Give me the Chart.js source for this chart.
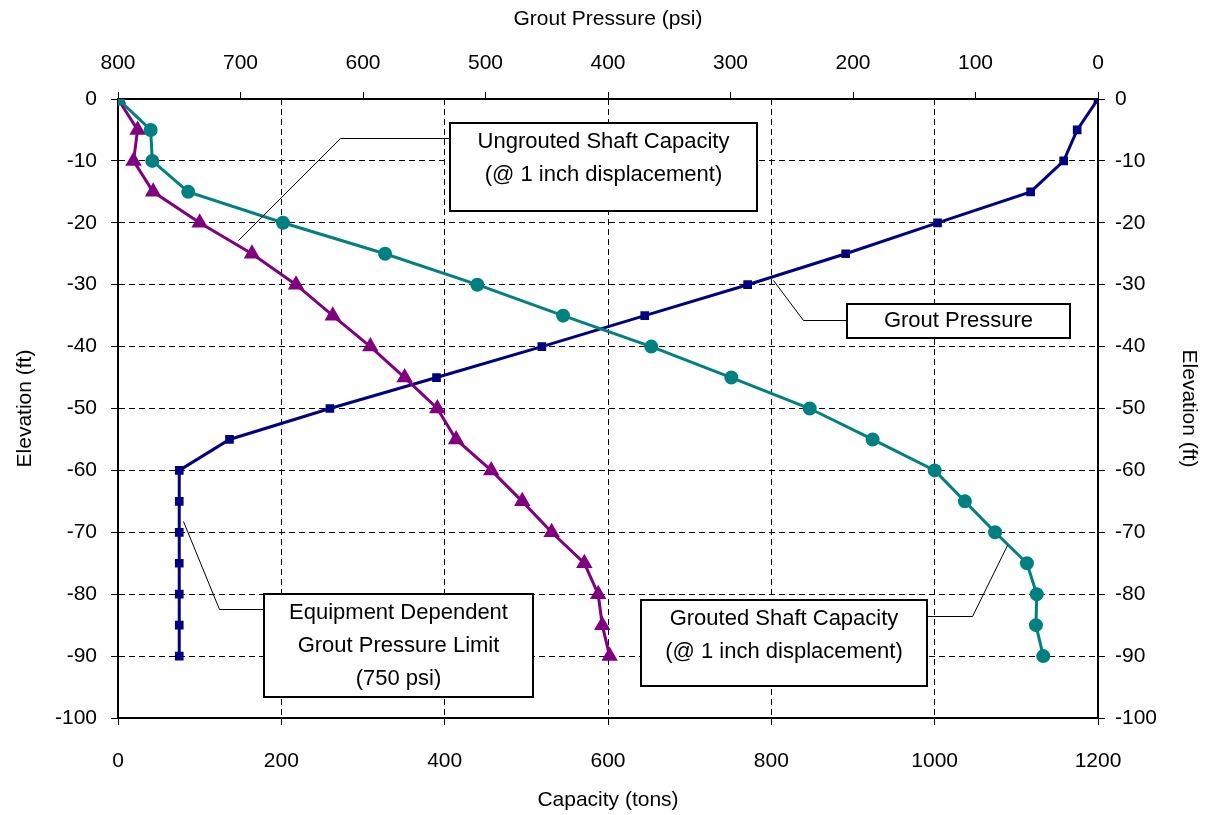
<!DOCTYPE html>
<html>
<head>
<meta charset="utf-8">
<script src="https://cdn.jsdelivr.net/npm/chart.js@4/dist/chart.umd.min.js"></script>
<style>
  html, body { margin: 0; padding: 0; background: #fff; }
  #wrap { width: 1209px; height: 815px; }
</style>
</head>
<body>
<div id="wrap"><canvas id="grafico" width="1209" height="815"></canvas></div>
<script>
// Elevação (ft) de cada ponto
const elevacao = [0, -5, -10, -15, -20, -25, -30, -35, -40, -45, -50, -55, -60, -65, -70, -75, -80, -85, -90];

// Capacidade (tons)
const capGrouted   = [0, 40, 42, 86, 202, 327, 440, 545, 653, 751, 847, 924, 1000, 1037, 1074, 1113, 1125, 1124, 1133];
const capUngrouted = [0, 24, 19, 43, 100, 164, 218, 263, 309, 351, 391, 414, 457, 495, 531, 571, 588, 593, 602];

// Pressão de injeção (psi)
const pressao = [0, 17, 28, 55, 131, 206, 286, 370, 454, 540, 627, 709, 750, 750, 750, 750, 750, 750, 750];

// Eixos
const capTicks = [0, 200, 400, 600, 800, 1000, 1200];
const psiTicks = [0, 100, 200, 300, 400, 500, 600, 700, 800];
const elevTicks = [0, -10, -20, -30, -40, -50, -60, -70, -80, -90, -100];

// Caixas de texto (pixels da página)
const notas = [
  { linhas: ["Ungrouted Shaft Capacity", "(@ 1 inch displacement)"], box: [450, 123, 757, 211], leader: [[238, 240], [340, 138], [450, 138]] },
  { linhas: ["Grout Pressure"], box: [847, 304, 1070, 338], leader: [[773, 280], [803, 320], [847, 320]] },
  { linhas: ["Equipment Dependent", "Grout Pressure Limit", "(750 psi)"], box: [264, 594, 533, 697], leader: [[183, 521], [219, 609], [264, 609]] },
  { linhas: ["Grouted Shaft Capacity", "(@ 1 inch displacement)"], box: [641, 600, 927, 686], leader: [[1007, 545], [972, 616], [927, 616]] }
];

const FONTE = "'Liberation Sans', Arial, sans-serif";

function pares(xs) {
  return xs.map((x, i) => ({ x: x, y: elevacao[i] }));
}

const notasPlugin = {
  id: "notas",
  afterDatasetsDraw(chart) {
    const ctx = chart.ctx;
    ctx.save();
    notas.forEach(n => {
      ctx.strokeStyle = "#000";
      ctx.lineWidth = 1;
      ctx.setLineDash([]);
      ctx.beginPath();
      n.leader.forEach((p, i) => i ? ctx.lineTo(p[0] + 0.5, p[1] + 0.5) : ctx.moveTo(p[0] + 0.5, p[1] + 0.5));
      ctx.stroke();

      const [x1, y1, x2, y2] = n.box;
      ctx.fillStyle = "#fff";
      ctx.fillRect(x1, y1, x2 - x1, y2 - y1);
      ctx.lineWidth = 2;
      ctx.strokeRect(x1, y1, x2 - x1, y2 - y1);

      ctx.fillStyle = "#000";
      ctx.font = "22px " + FONTE;
      ctx.textAlign = "center";
      ctx.textBaseline = "middle";
      const cx = (x1 + x2) / 2;
      const lh = 33;
      const y0 = n.linhas.length === 1 ? (y1 + y2) / 2 : y1 + 19;
      n.linhas.forEach((t, i) => ctx.fillText(t, cx, y0 + i * lh));
    });
    ctx.restore();
  }
};

const grade = { color: "#000", lineWidth: 1, tickLength: 7, tickColor: "#000", tickWidth: 1 };
const borda = { display: true, color: "#000", width: 2 };
const bordaTracejada = { display: true, color: "#000", width: 2, dash: [6, 4] };
const fonteTick = { family: FONTE, size: 21 };
const fonteTitulo = { family: FONTE, size: 21 };
const semVirgula = v => String(v);

new Chart(document.getElementById("grafico"), {
  type: "scatter",
  data: {
    datasets: [
      {
        label: "Grouted Shaft Capacity",
        data: pares(capGrouted),
        xAxisID: "x", yAxisID: "y",
        showLine: true, borderColor: "#008080", backgroundColor: "#008080",
        borderWidth: 3, pointStyle: "circle", pointRadius: 5.5
      },
      {
        label: "Ungrouted Shaft Capacity",
        data: pares(capUngrouted),
        xAxisID: "x", yAxisID: "y",
        showLine: true, borderColor: "#800080", backgroundColor: "#800080",
        borderWidth: 3, pointStyle: "triangle", pointRadius: 6.5
      },
      {
        label: "Grout Pressure",
        data: pares(pressao),
        xAxisID: "x2", yAxisID: "y",
        showLine: true, borderColor: "#000080", backgroundColor: "#000080",
        borderWidth: 3, pointStyle: "rect", pointRadius: 4
      }
    ]
  },
  options: {
    responsive: false,
    animation: false,
    layout: { padding: 0 },
    plugins: { legend: false, tooltip: { enabled: false } },
    scales: {
      x: {
        type: "linear", position: "bottom", min: 0, max: 1200,
        afterBuildTicks: s => { s.ticks = capTicks.map(v => ({ value: v })); },
        afterFit: s => { s.height = 97; },
        grid: grade,
        border: bordaTracejada,
        ticks: { font: fonteTick, color: "#000", padding: 24, maxRotation: 0, callback: semVirgula },
        title: { display: true, text: "Capacity (tons)", font: fonteTitulo, color: "#000", padding: { top: 0, bottom: 2 } }
      },
      x2: {
        type: "linear", position: "top", min: 0, max: 800, reverse: true,
        afterBuildTicks: s => { s.ticks = psiTicks.map(v => ({ value: v })); },
        afterFit: s => { s.height = 99; },
        grid: Object.assign({}, grade, { drawOnChartArea: false }),
        border: borda,
        ticks: { font: fonteTick, color: "#000", padding: 16, maxRotation: 0, callback: semVirgula },
        title: { display: true, text: "Grout Pressure (psi)", font: fonteTitulo, color: "#000", padding: { top: 7, bottom: 0 } }
      },
      y: {
        type: "linear", position: "left", min: -100, max: 0,
        afterBuildTicks: s => { s.ticks = elevTicks.map(v => ({ value: v })); },
        afterFit: s => { s.width = 118; },
        grid: grade,
        border: bordaTracejada,
        ticks: { font: fonteTick, color: "#000", padding: 14, callback: semVirgula },
        title: { display: true, text: "Elevation (ft)", font: fonteTitulo, color: "#000", padding: { top: 13, bottom: 13 } }
      },
      y2: {
        type: "linear", position: "right", min: -100, max: 0,
        afterBuildTicks: s => { s.ticks = elevTicks.map(v => ({ value: v })); },
        afterFit: s => { s.width = 111; },
        grid: Object.assign({}, grade, { drawOnChartArea: false }),
        border: borda,
        ticks: { font: fonteTick, color: "#000", padding: 10, callback: semVirgula },
        title: { display: true, text: "Elevation (ft)", font: fonteTitulo, color: "#000", padding: { top: 8, bottom: 8 } }
      }
    }
  },
  plugins: [notasPlugin]
});
</script>
</body>
</html>
